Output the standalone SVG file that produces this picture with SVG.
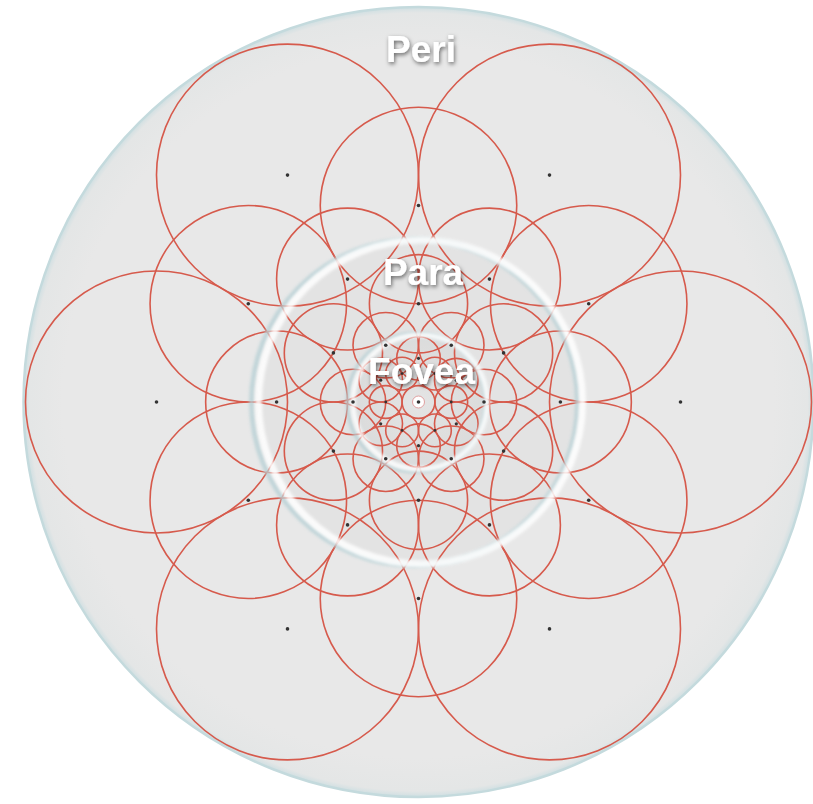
<svg xmlns="http://www.w3.org/2000/svg" width="813" height="804" viewBox="0 0 813 804">
  <defs>
    <style>
      .rf { fill: none; stroke: #d65a4c; stroke-width: 1.6; }
      .dot { fill: #333333; }
      .lbl { font-family: "Liberation Sans", Arial, sans-serif; font-weight: bold; font-size: 37px; fill: #ffffff; text-anchor: middle; filter: url(#shadow); }
    </style>
    <filter id="shadow" x="-20%" y="-30%" width="140%" height="160%">
      <feDropShadow dx="1" dy="2" stdDeviation="2" flood-color="#000000" flood-opacity="0.55"/>
    </filter>
    <filter id="soft" x="-10%" y="-10%" width="120%" height="120%">
      <feGaussianBlur stdDeviation="1.5"/>
    </filter>
    <radialGradient id="disc" cx="50%" cy="50%" r="50%">
      <stop offset="0.9" stop-color="#e8e8e8"/>
      <stop offset="0.985" stop-color="#e4e6e6"/>
      <stop offset="1" stop-color="#cfdfe2"/>
    </radialGradient>
    <radialGradient id="fov" cx="50%" cy="50%" r="50%">
      <stop offset="0" stop-color="#e4e4e4"/>
      <stop offset="0.85" stop-color="#dcdcdc"/>
      <stop offset="1" stop-color="#d8dcdd"/>
    </radialGradient>
  </defs>

  <g id="peri-region">
    <circle cx="418.5" cy="402" r="395" fill="url(#disc)" stroke="#c4dadd" stroke-width="2.5"/>
  </g>
  <g id="para-region">
    <circle cx="418.5" cy="402" r="162" fill="#e3e3e3"/>
  </g>
  <g id="fovea-region">
    <circle cx="419" cy="402" r="68" fill="url(#fov)"/>
  </g>

  <g id="connectors"></g>

  <g id="ring0">
    <circle class="rf" cx="680.5" cy="402" r="131"/>
    <circle class="rf" cx="549.5" cy="175.1" r="131"/>
    <circle class="rf" cx="287.5" cy="175.1" r="131"/>
    <circle class="rf" cx="156.5" cy="402" r="131"/>
    <circle class="rf" cx="287.5" cy="628.9" r="131"/>
    <circle class="rf" cx="549.5" cy="628.9" r="131"/>
  </g>
  <g id="ring1">
    <circle class="rf" cx="588.7" cy="303.75" r="98.25"/>
    <circle class="rf" cx="418.5" cy="205.5" r="98.25"/>
    <circle class="rf" cx="248.3" cy="303.75" r="98.25"/>
    <circle class="rf" cx="248.3" cy="500.25" r="98.25"/>
    <circle class="rf" cx="418.5" cy="598.5" r="98.25"/>
    <circle class="rf" cx="588.7" cy="500.25" r="98.25"/>
  </g>
  <g id="ring2">
    <circle class="rf" cx="560.4" cy="402" r="70.95"/>
    <circle class="rf" cx="489.45" cy="279.1" r="70.95"/>
    <circle class="rf" cx="347.55" cy="279.1" r="70.95"/>
    <circle class="rf" cx="276.6" cy="402" r="70.95"/>
    <circle class="rf" cx="347.55" cy="524.9" r="70.95"/>
    <circle class="rf" cx="489.45" cy="524.9" r="70.95"/>
  </g>
  <g id="ring3">
    <circle class="rf" cx="503.6" cy="352.9" r="49.1"/>
    <circle class="rf" cx="418.5" cy="303.75" r="49.1"/>
    <circle class="rf" cx="333.4" cy="352.9" r="49.1"/>
    <circle class="rf" cx="333.4" cy="451.1" r="49.1"/>
    <circle class="rf" cx="418.5" cy="500.25" r="49.1"/>
    <circle class="rf" cx="503.6" cy="451.1" r="49.1"/>
  </g>
  <g id="ring4">
    <circle class="rf" cx="484" cy="402" r="32.75"/>
    <circle class="rf" cx="451.25" cy="345.3" r="32.75"/>
    <circle class="rf" cx="385.75" cy="345.3" r="32.75"/>
    <circle class="rf" cx="353" cy="402" r="32.75"/>
    <circle class="rf" cx="385.75" cy="458.7" r="32.75"/>
    <circle class="rf" cx="451.25" cy="458.7" r="32.75"/>
  </g>
  <g id="ring5">
    <circle class="rf" cx="456.3" cy="380.2" r="21.8"/>
    <circle class="rf" cx="418.5" cy="358.3" r="21.8"/>
    <circle class="rf" cx="380.7" cy="380.2" r="21.8"/>
    <circle class="rf" cx="380.7" cy="423.8" r="21.8"/>
    <circle class="rf" cx="418.5" cy="445.7" r="21.8"/>
    <circle class="rf" cx="456.3" cy="423.8" r="21.8"/>
  </g>
  <g id="ring6">
    <circle class="rf" cx="451.25" cy="402" r="16.4"/>
    <circle class="rf" cx="434.9" cy="373.6" r="16.4"/>
    <circle class="rf" cx="402.1" cy="373.6" r="16.4"/>
    <circle class="rf" cx="385.75" cy="402" r="16.4"/>
    <circle class="rf" cx="402.1" cy="430.4" r="16.4"/>
    <circle class="rf" cx="434.9" cy="430.4" r="16.4"/>
  </g>
  <g id="center">
    <circle class="rf" cx="418.5" cy="402" r="16.4"/>
  </g>

  <g id="para-ring">
    <circle cx="414.5" cy="402.5" r="163" fill="none" stroke="#b7d0d5" stroke-width="5" opacity="0.8" filter="url(#soft)"/>
    <circle cx="420.5" cy="402" r="162" fill="none" stroke="#ffffff" stroke-width="7" opacity="0.85" filter="url(#soft)"/>
  </g>
  <g id="fovea-ring">
    <circle cx="416.5" cy="402.5" r="69" fill="none" stroke="#b7d0d5" stroke-width="4" opacity="0.8" filter="url(#soft)"/>
    <circle cx="420" cy="402" r="67" fill="none" stroke="#ffffff" stroke-width="5" opacity="0.85" filter="url(#soft)"/>
  </g>

  <g id="centers">
    <circle class="dot" cx="680.5" cy="402" r="1.8"/>
    <circle class="dot" cx="549.5" cy="175.1" r="1.8"/>
    <circle class="dot" cx="287.5" cy="175.1" r="1.8"/>
    <circle class="dot" cx="156.5" cy="402" r="1.8"/>
    <circle class="dot" cx="287.5" cy="628.9" r="1.8"/>
    <circle class="dot" cx="549.5" cy="628.9" r="1.8"/>
    <circle class="dot" cx="588.7" cy="303.75" r="1.8"/>
    <circle class="dot" cx="418.5" cy="205.5" r="1.8"/>
    <circle class="dot" cx="248.3" cy="303.75" r="1.8"/>
    <circle class="dot" cx="248.3" cy="500.25" r="1.8"/>
    <circle class="dot" cx="418.5" cy="598.5" r="1.8"/>
    <circle class="dot" cx="588.7" cy="500.25" r="1.8"/>
    <circle class="dot" cx="560.4" cy="402" r="1.8"/>
    <circle class="dot" cx="489.45" cy="279.1" r="1.8"/>
    <circle class="dot" cx="347.55" cy="279.1" r="1.8"/>
    <circle class="dot" cx="276.6" cy="402" r="1.8"/>
    <circle class="dot" cx="347.55" cy="524.9" r="1.8"/>
    <circle class="dot" cx="489.45" cy="524.9" r="1.8"/>
    <circle class="dot" cx="503.6" cy="352.9" r="1.8"/>
    <circle class="dot" cx="418.5" cy="303.75" r="1.8"/>
    <circle class="dot" cx="333.4" cy="352.9" r="1.8"/>
    <circle class="dot" cx="333.4" cy="451.1" r="1.8"/>
    <circle class="dot" cx="418.5" cy="500.25" r="1.8"/>
    <circle class="dot" cx="503.6" cy="451.1" r="1.8"/>
    <circle class="dot" cx="484" cy="402" r="1.8"/>
    <circle class="dot" cx="451.25" cy="345.3" r="1.8"/>
    <circle class="dot" cx="385.75" cy="345.3" r="1.8"/>
    <circle class="dot" cx="353" cy="402" r="1.8"/>
    <circle class="dot" cx="385.75" cy="458.7" r="1.8"/>
    <circle class="dot" cx="451.25" cy="458.7" r="1.8"/>
    <circle class="dot" cx="456.3" cy="380.2" r="1.6"/>
    <circle class="dot" cx="418.5" cy="358.3" r="1.6"/>
    <circle class="dot" cx="380.7" cy="380.2" r="1.6"/>
    <circle class="dot" cx="380.7" cy="423.8" r="1.6"/>
    <circle class="dot" cx="418.5" cy="445.7" r="1.6"/>
    <circle class="dot" cx="456.3" cy="423.8" r="1.6"/>
    <circle class="dot" cx="451.25" cy="402" r="1.4"/>
    <circle class="dot" cx="434.9" cy="373.6" r="1.4"/>
    <circle class="dot" cx="402.1" cy="373.6" r="1.4"/>
    <circle class="dot" cx="385.75" cy="402" r="1.4"/>
    <circle class="dot" cx="402.1" cy="430.4" r="1.4"/>
    <circle class="dot" cx="434.9" cy="430.4" r="1.4"/>
  </g>
  <g id="center-point">
    <circle cx="418.5" cy="402" r="6" fill="#ffffff" stroke="#e0a0a0" stroke-width="1"/>
    <circle class="dot" cx="418.5" cy="402" r="1.8" fill="#111111"/>
  </g>

  <g id="labels">
    <text class="lbl" x="421" y="62">Peri</text>
    <text class="lbl" x="423" y="285">Para</text>
    <text class="lbl" x="421.5" y="384">Fovea</text>
  </g>
</svg>
